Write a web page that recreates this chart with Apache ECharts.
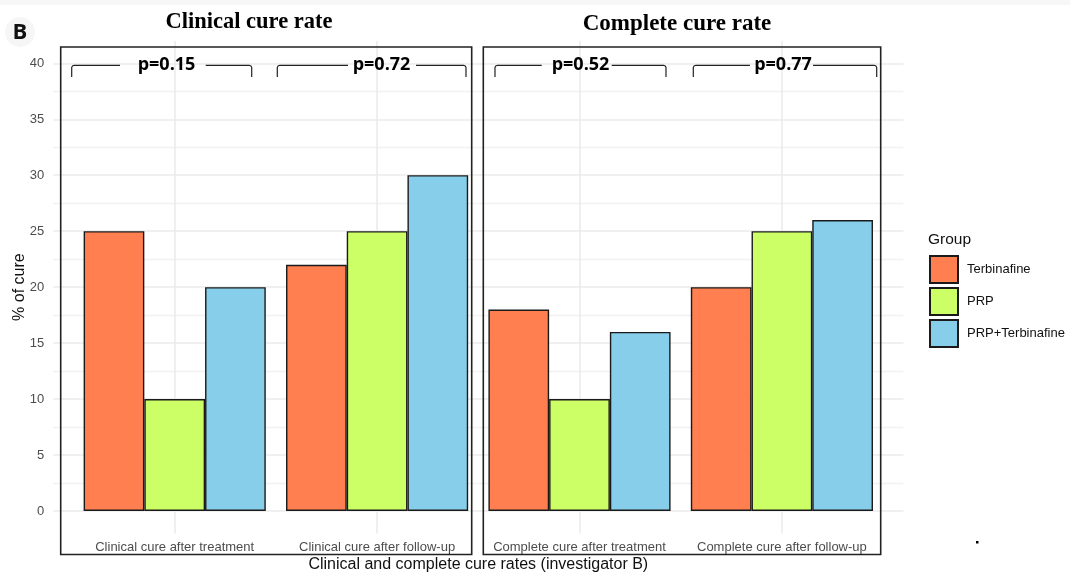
<!DOCTYPE html>
<html>
<head>
<meta charset="utf-8">
<script src="https://cdn.jsdelivr.net/npm/echarts@6/dist/echarts.min.js"></script>
<style>
html,body{margin:0;padding:0;background:#fff;}
#chart{width:1070px;height:574px;}
</style>
</head>
<body>
<div id="chart"></div>
<script>
// ---- data ----
const categories = ['Clinical cure after treatment', 'Clinical cure after follow-up', 'Complete cure after treatment', 'Complete cure after follow-up'];
const groups = ['Terbinafine', 'PRP', 'PRP+Terbinafine'];
const terbinafine = [25, 22, 18, 20];
const prp = [10, 25, 10, 25];
const prpTerbinafine = [20, 30, 16, 26];
const yTicks = [0, 5, 10, 15, 20, 25, 30, 35, 40];
const pValues = ['p=0.15', 'p=0.72', 'p=0.52', 'p=0.77'];
const panelTitles = ['Clinical cure rate', 'Complete cure rate'];

const colors = ['#FF7F50', '#CCFF66', '#87CEEB'];
const SANS = '"Liberation Sans", Arial, sans-serif';

// ---- layout of annotations (pixel geometry) ----
const bracketGeom = [
  [71.7, 120, 205.7, 251.7, 166.5],
  [277.3, 348, 416, 466, 381.5],
  [495, 541.7, 611.7, 666, 580.5],
  [693.3, 750, 813, 876.7, 783]
];
const bracketY = 65.3, legY = 77;

const graphics = [];
graphics.push({type:'rect', shape:{x:0,y:0,width:1070,height:5}, style:{fill:'#f7f7f7'}, silent:true});
graphics.push({type:'circle', shape:{cx:20, cy:32, r:15}, style:{fill:'#f6f6f6'}, silent:true});
graphics.push({type:'text', x:20, y:33, style:{text:'B', fontFamily:'"Open Sans", "Liberation Sans", sans-serif', fontWeight:'bold', fontSize:22, fill:'#111', align:'center', verticalAlign:'middle'}});
graphics.push({type:'text', x:249, y:22, style:{text:panelTitles[0], fontFamily:'"Liberation Serif", "Times New Roman", serif', fontWeight:'bold', fontSize:22.5, fill:'#000', align:'center', verticalAlign:'middle'}});
graphics.push({type:'text', x:677, y:24, style:{text:panelTitles[1], fontFamily:'"Liberation Serif", "Times New Roman", serif', fontWeight:'bold', fontSize:23, fill:'#000', align:'center', verticalAlign:'middle'}});
graphics.push({type:'rect', shape:{x:60.7,y:47,width:411,height:507.5}, style:{fill:'none', stroke:'#222', lineWidth:1.6}, z:100});
graphics.push({type:'rect', shape:{x:483.3,y:47,width:397.4,height:507.5}, style:{fill:'none', stroke:'#222', lineWidth:1.6}, z:100});
bracketGeom.forEach((g, i) => {
  const [x1, a, b, x2, tx] = g;
  graphics.push({type:'polyline', shape:{points:[[x1, legY], [x1, bracketY + 2], [x1 + 0.8, bracketY + 0.6], [x1 + 2.5, bracketY], [a, bracketY]]},
    style:{fill:'none', stroke:'#222', lineWidth:1.2}, z:100});
  graphics.push({type:'polyline', shape:{points:[[b, bracketY], [x2 - 2.5, bracketY], [x2 - 0.8, bracketY + 0.6], [x2, bracketY + 2], [x2, legY]]},
    style:{fill:'none', stroke:'#222', lineWidth:1.2}, z:100});
  graphics.push({type:'text', x:tx, y:64.5, style:{text:pValues[i], fontFamily:'"Open Sans", "Noto Sans", sans-serif', fontWeight:'bold', fontSize:18, fill:'#000', align:'center', verticalAlign:'middle'}, z:100});
});
graphics.push({type:'rect', shape:{x:976,y:541,width:2.5,height:2.5}, style:{fill:'#000'}});
graphics.push({type:'text', x:928, y:240, style:{text:'Group', fontFamily:SANS, fontSize:15.5, fill:'#111', align:'left', verticalAlign:'middle'}});

const seriesData = [terbinafine, prp, prpTerbinafine];

const option = {
  animation: false,
  backgroundColor: '#fff',
  grid: [
    {left: 53.3, right: 166.6, top: 63.3, bottom: 63, outerBoundsMode: 'none', containLabel: false},
    {left: 73.5, right: 186.9, top: 40.9, bottom: 40.6, outerBoundsMode: 'none', containLabel: false}
  ],
  xAxis: [
    {type: 'value', gridIndex: 0, show: false, min: 0, max: 1},
    {
      type: 'category', gridIndex: 1, data: categories,
      axisLine: {show: false}, axisTick: {show: false},
      axisLabel: {color: '#4d4d4d', fontSize: 13, fontFamily: SANS, margin: 8, interval: 0},
      splitLine: {show: true, interval: 0, alignWithLabel: true, lineStyle: {color: '#ebebeb', width: 1.6}},
      name: 'Clinical and complete cure rates (investigator B)',
      nameLocation: 'middle', nameGap: 23, nameMoveOverlap: false,
      nameTextStyle: {color: '#111', fontSize: 16, fontFamily: SANS}
    }
  ],
  yAxis: [
    {
      type: 'value', gridIndex: 0, min: 0, max: 40, interval: 5,
      axisLine: {show: false}, axisTick: {show: false},
      axisLabel: {color: '#4d4d4d', fontSize: 13, fontFamily: SANS, margin: 9,
        formatter: v => (yTicks.indexOf(v) >= 0 ? String(v) : '')},
      splitLine: {show: true, lineStyle: {color: '#ebebeb', width: 1.6}},
      minorTick: {show: false, splitNumber: 2},
      minorSplitLine: {show: true, lineStyle: {color: '#f1f1f1', width: 1.3}},
      name: '% of cure', nameLocation: 'middle', nameRotate: 90, nameGap: 26, nameMoveOverlap: false,
      nameTextStyle: {color: '#111', fontSize: 16, fontFamily: SANS}
    },
    {type: 'value', gridIndex: 1, min: -2, max: 42, show: false}
  ],
  legend: {
    data: groups, orient: 'vertical', left: 929, top: 255, padding: 0,
    itemWidth: 28, itemHeight: 27, itemGap: 3, icon: 'rect',
    textStyle: {fontSize: 13, color: '#111', fontFamily: SANS, padding: [0, 0, 0, 4]}
  },
  graphic: graphics,
  series: groups.map((g, i) => ({
    name: g, type: 'bar', xAxisIndex: 1, yAxisIndex: 1,
    data: seriesData[i],
    barGap: '0%', barCategoryGap: '10%',
    itemStyle: {color: colors[i], borderColor: '#1a1a1a', borderWidth: 1.4}
  }))
};

const chart = echarts.init(document.getElementById('chart'), null, {renderer: 'canvas'});
chart.setOption(option);
</script>
</body>
</html>
